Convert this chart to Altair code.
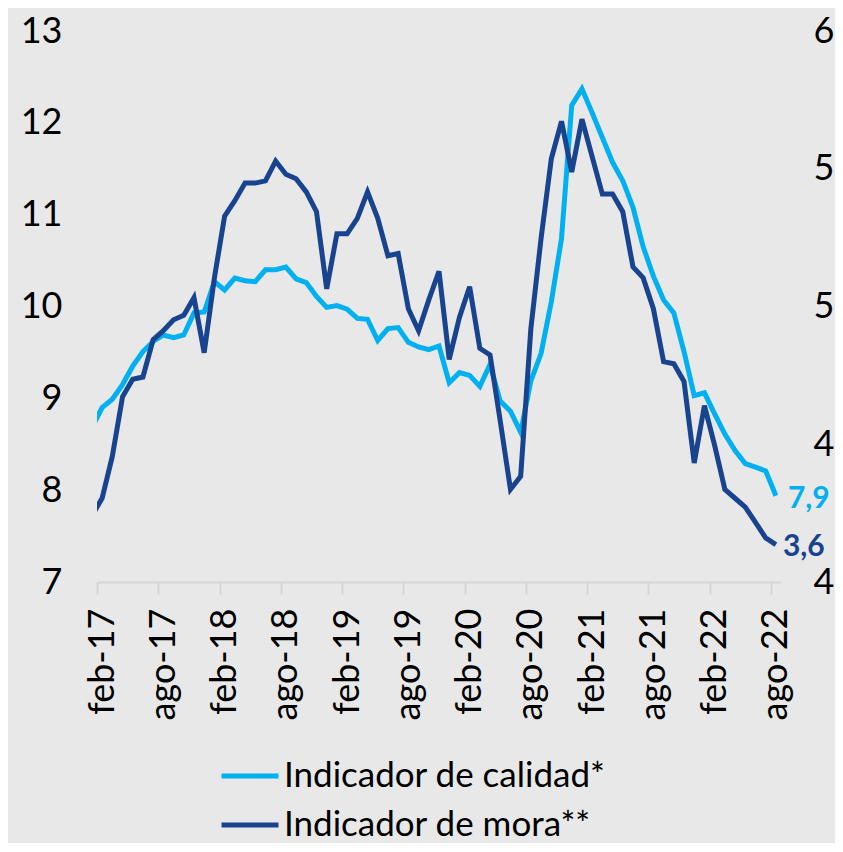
import altair as alt
import pandas as pd

# month index: -1 = ene-17 (clipped at left edge), 0 = feb-17 ... 66 = ago-22
month_index = list(range(-1, 67))
tick_labels = ["feb-17", "ago-17", "feb-18", "ago-18", "feb-19", "ago-19",
               "feb-20", "ago-20", "feb-21", "ago-21", "feb-22", "ago-22"]
tick_values = [0, 6, 12, 18, 24, 30, 36, 42, 48, 54, 60, 66]

calidad = [8.68, 8.90, 8.99, 9.15, 9.35, 9.51, 9.62, 9.69, 9.66, 9.69,
           9.93, 9.94, 10.27, 10.18, 10.31, 10.28, 10.27, 10.40, 10.40, 10.43,
           10.30, 10.26, 10.11, 9.99, 10.01, 9.97, 9.87, 9.86, 9.63, 9.76,
           9.77, 9.61, 9.56, 9.53, 9.57, 9.17, 9.28, 9.25, 9.13, 9.37,
           8.97, 8.86, 8.63, 9.19, 9.49, 10.05, 10.74, 12.19, 12.37, 12.11,
           11.84, 11.57, 11.37, 11.08, 10.65, 10.33, 10.07, 9.93, 9.51, 9.03,
           9.06, 8.83, 8.61, 8.43, 8.29, 8.25, 8.21, 7.94]
mora = [3.80, 3.88, 4.07, 4.34, 4.42, 4.43, 4.60, 4.64, 4.69, 4.71,
        4.79, 4.54, 4.88, 5.16, 5.23, 5.31, 5.31, 5.32, 5.41, 5.35,
        5.33, 5.27, 5.18, 4.83, 5.08, 5.08, 5.15, 5.27, 5.15, 4.98,
        4.99, 4.74, 4.64, 4.78, 4.91, 4.51, 4.70, 4.84, 4.56, 4.53,
        4.23, 3.92, 3.98, 4.65, 5.06, 5.42, 5.59, 5.36, 5.60, 5.43,
        5.26, 5.26, 5.18, 4.93, 4.88, 4.74, 4.50, 4.49, 4.41, 4.04,
        4.30, 4.12, 3.92, 3.88, 3.84, 3.77, 3.70, 3.67]

series_names = ["Indicador de calidad*", "Indicador de mora**"]
series_colors = ["#00b0f0", "#17438f"]
end_labels = ["7,9", "3,6"]

left_ticks = [7, 8, 9, 10, 11, 12, 13]
right_ticks = [3.5, 4.125, 4.75, 5.375, 6.0]

df_cal = pd.DataFrame({"i": month_index, "v": calidad, "serie": series_names[0]})
df_mora = pd.DataFrame({"i": month_index, "v": mora, "serie": series_names[1]})
df_cal_end = pd.DataFrame({"i": [month_index[-1]], "v": [calidad[-1]], "t": [end_labels[0]]})
df_mora_end = pd.DataFrame({"i": [month_index[-1]], "v": [mora[-1]], "t": [end_labels[1]]})

FONT = "Lato"
labels_js = "[" + ",".join("'%s'" % s for s in tick_labels) + "]"

x_enc = alt.X("i:Q",
              scale=alt.Scale(domain=[-0.5, 66.5], nice=False, zero=False),
              axis=alt.Axis(values=tick_values, labelExpr=labels_js + "[datum.value/6]",
                            title=None, grid=False, labelAngle=270,
                            labelFont=FONT, labelFontSize=36, labelColor="#000000",
                            labelPadding=14, tickSize=12, tickColor="#d6d6d6",
                            tickWidth=2, domainColor="#d6d6d6", domainWidth=2,
                            tickOffset=-5.1, labelOffset=5.1, labelFlush=False,
                            labelOverlap=False))

color_enc = alt.Color("serie:N",
                      scale=alt.Scale(domain=series_names, range=series_colors),
                      legend=alt.Legend(title=None, orient="none", legendX=122, legendY=714,
                                        direction="vertical", symbolType="stroke",
                                        symbolStrokeWidth=5, symbolSize=3249,
                                        labelFont=FONT, labelFontSize=35, labelLimit=0,
                                        labelColor="#000000", labelOffset=3,
                                        rowPadding=0, padding=0))

y_left = alt.Y("v:Q", scale=alt.Scale(domain=[7, 13], nice=False, zero=False),
               axis=alt.Axis(orient="left", values=left_ticks, title=None, grid=False,
                             domain=False, ticks=False, labelFont=FONT, labelFontSize=36,
                             labelColor="#000000", labelPadding=35))
y_right = alt.Y("v:Q", scale=alt.Scale(domain=[3.5, 6.0], nice=False, zero=False),
                axis=alt.Axis(orient="right", values=right_ticks, format=".0f", title=None,
                              grid=False, domain=False, ticks=False, labelFont=FONT,
                              labelFontSize=36, labelColor="#000000", labelPadding=32))

line_cal = alt.Chart(df_cal).mark_line(strokeWidth=5, clip=True).encode(
    x=x_enc, y=y_left, color=color_enc)
text_cal = alt.Chart(df_cal_end).mark_text(align="left", baseline="middle", dx=12, dy=3,
                                           font=FONT, fontSize=30, fontWeight="bold",
                                           color=series_colors[0]).encode(
    x=x_enc, y=y_left, text="t:N")

line_mora = alt.Chart(df_mora).mark_line(strokeWidth=5, clip=True).encode(
    x=x_enc, y=y_right, color=color_enc)
text_mora = alt.Chart(df_mora_end).mark_text(align="left", baseline="middle", dx=7, dy=2,
                                             font=FONT, fontSize=30, fontWeight="bold",
                                             color=series_colors[1]).encode(
    x=x_enc, y=y_right, text="t:N")

chart = alt.layer(
    alt.layer(line_cal, text_cal),
    alt.layer(line_mora, text_mora),
).resolve_scale(y="independent").properties(
    width=684, height=551,
    padding={"left": 89, "top": 23, "right": 54, "bottom": 261},
    autosize=alt.AutoSizeParams(type="none"),
    background="#e8e8e8",
).configure_view(stroke=None)

chart.save("out.html", embed_options={"renderer": "svg", "actions": False})
